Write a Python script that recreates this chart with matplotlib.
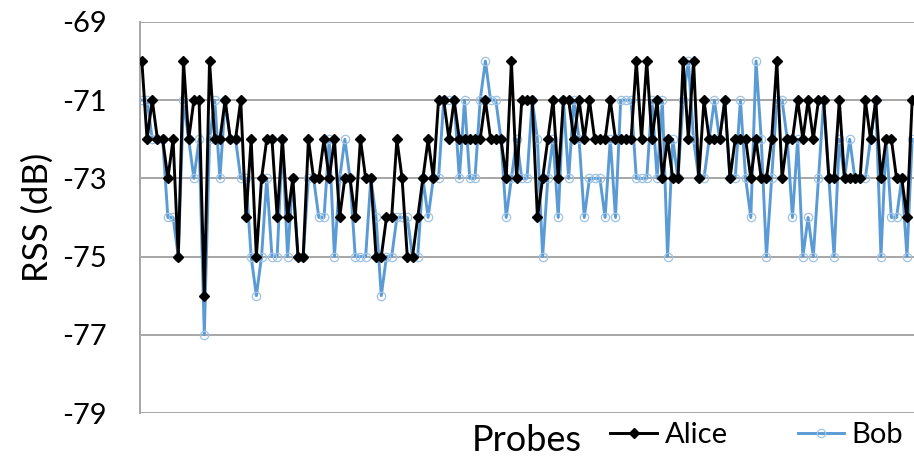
import numpy as np
import matplotlib
matplotlib.use("Agg")
import matplotlib.pyplot as plt

plt.rcParams['font.family'] = ['Lato', 'DejaVu Sans']

# RSS readings per probe (dB)
alice = [
    -70, -72, -71, -72, -72, -73, -72, -75, -70, -72, -71, -71, -76, -70, -72, -72, -71, -72, -72, -71, -74, -72, -75, -73, -72,
    -72, -74, -72, -74, -73, -75, -75, -72, -73, -73, -72, -73, -72, -74, -73, -73, -74, -72, -73, -73, -75, -75, -74, -74, -72,
    -73, -75, -75, -74, -73, -72, -73, -71, -71, -72, -71, -72, -72, -72, -72, -72, -71, -72, -72, -72, -73, -70, -73, -71, -71,
    -71, -74, -73, -72, -71, -73, -71, -71, -72, -71, -72, -71, -72, -72, -72, -71, -72, -72, -72, -72, -70, -72, -70, -72, -71,
    -73, -72, -73, -73, -70, -72, -70, -73, -71, -72, -72, -72, -71, -73, -72, -72, -72, -73, -72, -73, -73, -72, -70, -73, -72,
    -72, -71, -72, -71, -72, -71, -71, -73, -73, -71, -73, -73, -73, -73, -71, -72, -71, -73, -72, -72, -73, -73, -74, -71,
]
bob = [
    -71, -71, -72, -72, -72, -74, -74, -75, -71, -72, -73, -72, -77, -72, -71, -73, -71, -72, -72, -73, -73, -75, -76, -75, -73,
    -75, -75, -72, -75, -73, -75, -75, -73, -73, -74, -74, -72, -75, -73, -72, -73, -75, -75, -75, -73, -74, -76, -75, -75, -74,
    -74, -74, -75, -75, -73, -74, -73, -73, -71, -71, -71, -73, -71, -73, -73, -71, -70, -71, -71, -72, -74, -73, -72, -73, -73,
    -71, -72, -75, -73, -72, -74, -71, -73, -71, -72, -74, -73, -73, -73, -74, -72, -74, -71, -71, -71, -73, -73, -73, -71, -73,
    -71, -75, -72, -73, -71, -70, -72, -73, -73, -72, -71, -72, -71, -73, -73, -71, -73, -74, -70, -72, -75, -73, -71, -71, -72,
    -74, -72, -75, -74, -75, -73, -71, -73, -75, -72, -73, -72, -73, -73, -73, -72, -71, -75, -72, -74, -74, -73, -75, -72,
]
yticks = [-79, -77, -75, -73, -71, -69]

probes = np.arange(len(alice))

fig = plt.figure(figsize=(9.14, 4.59), dpi=100)
ax = fig.add_axes([0.1532, 0.1002, 0.8468, 0.852])

grid_c = '#a6a6a6'
ax.plot(probes, alice, color='black', lw=2.1, marker='D', ms=5.5,
        mfc='black', mec='black', label='Alice', zorder=3)
ax.plot(probes, bob, color='#5b9bd5', lw=2.1, marker='o', ms=6,
        mfc='none', mec='#9dc3e6', mew=0.9, label='Bob', zorder=2)

ax.set_xlim(-0.35, len(alice) - 0.65)
ax.set_ylim(-79, -69)
ax.set_yticks(yticks)
ax.set_yticklabels([str(t) for t in yticks], fontsize=21)
ax.set_xticks([])
ax.tick_params(axis='y', length=0, pad=24)
ax.grid(axis='y', color=grid_c, lw=1.4)
ax.set_axisbelow(True)
for s in ['top', 'right', 'bottom']:
    ax.spines[s].set_visible(False)
ax.spines['left'].set_color(grid_c)
ax.spines['left'].set_linewidth(1.4)

ax.set_ylabel('RSS (dB)', fontsize=25, labelpad=6)
ax.set_xlabel('Probes', fontsize=26, labelpad=8)

fig.legend(loc='center', bbox_to_anchor=(0.828, 0.052), ncol=2, frameon=False,
           fontsize=21, handlelength=1.6, columnspacing=2.4, handletextpad=0.25)

fig.savefig('out.png', dpi=100)
